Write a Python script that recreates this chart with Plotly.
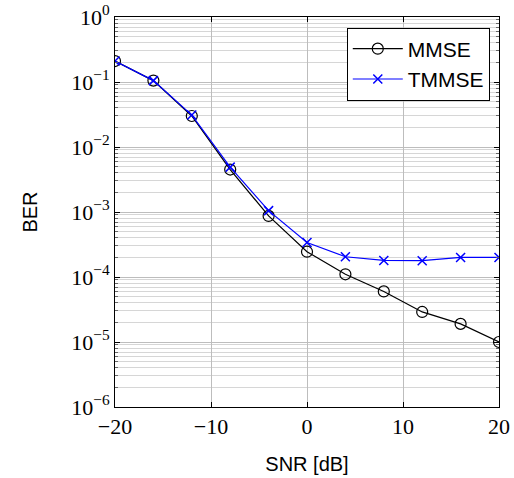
import plotly.graph_objects as go

snr = [-20, -16, -12, -8, -4, 0, 4, 8, 12, 16, 20]
ber_mmse = [0.21, 0.105, 0.030, 0.0045, 8.7e-4, 2.45e-4, 1.1e-4, 6.0e-5, 2.9e-5, 1.9e-5, 1.0e-5]
ber_tmmse = [0.21, 0.105, 0.031, 0.0049, 1.05e-3, 3.4e-4, 2.05e-4, 1.8e-4, 1.78e-4, 2.0e-4, 2.0e-4]

x_ticks = [-20, -10, 0, 10, 20]
x_ticktext = ["−20", "−10", "0", "10", "20"]
y_exponents = [-6, -5, -4, -3, -2, -1, 0]
y_ticks = [10.0 ** e for e in y_exponents]
y_ticktext = ["10<sup>%s</sup>" % (str(e).replace("-", "−")) for e in y_exponents]
y_minor = [m * 10.0 ** e for e in y_exponents[:-1] for m in range(2, 10)]

serif = "Liberation Serif, Times New Roman, serif"
sans = "Liberation Sans, Arial, sans-serif"

fig = go.Figure()
fig.add_trace(go.Scatter(
    x=snr, y=ber_mmse, name="MMSE", mode="lines+markers",
    line=dict(color="black", width=1.2),
    marker=dict(symbol="circle-open", size=11, color="black", line=dict(width=1.2)),
))
fig.add_trace(go.Scatter(
    x=snr, y=ber_tmmse, name="TMMSE", mode="lines+markers",
    line=dict(color="#0000ff", width=1.2),
    marker=dict(symbol="x-thin-open", size=9, color="#0000ff", line=dict(width=1.5, color="#0000ff")),
))

fig.update_layout(
    width=514, height=478,
    margin=dict(l=115, r=15, t=17, b=71, autoexpand=False),
    plot_bgcolor="white", paper_bgcolor="white",
    showlegend=True,
    legend=dict(
        x=0.976, y=0.973, xanchor="right", yanchor="top",
        bgcolor="white", bordercolor="black", borderwidth=1,
        font=dict(family=sans, size=21, color="black"),
        itemwidth=50, tracegroupgap=4,
    ),
)
fig.update_xaxes(
    range=[-20, 20], tickvals=x_ticks, ticktext=x_ticktext,
    ticks="inside", ticklen=5, tickcolor="black",
    showline=True, linecolor="black", linewidth=1, mirror="ticks",
    showgrid=True, gridcolor="#bdbdbd", gridwidth=1, zeroline=False,
    tickfont=dict(family=serif, size=22, color="black"),
    automargin=False,
    title=dict(text="SNR [dB]", font=dict(family=sans, size=20, color="black"), standoff=18),
)
fig.update_yaxes(
    type="log", range=[-6, 0], tickvals=y_ticks, ticktext=y_ticktext,
    ticks="inside", ticklen=5, tickcolor="black",
    showline=True, linecolor="black", linewidth=1, mirror="ticks",
    showgrid=True, gridcolor="#bdbdbd", gridwidth=1, zeroline=False,
    minor=dict(tickmode="array", tickvals=y_minor, ticks="inside", ticklen=3, tickcolor="#666666",
               showgrid=True, gridcolor="#d6d6d6", gridwidth=1),
    tickfont=dict(family=serif, size=22, color="black"),
    automargin=False,
    title=dict(text="BER", font=dict(family=sans, size=20, color="black"), standoff=28),
)

fig.write_html("out.html")
